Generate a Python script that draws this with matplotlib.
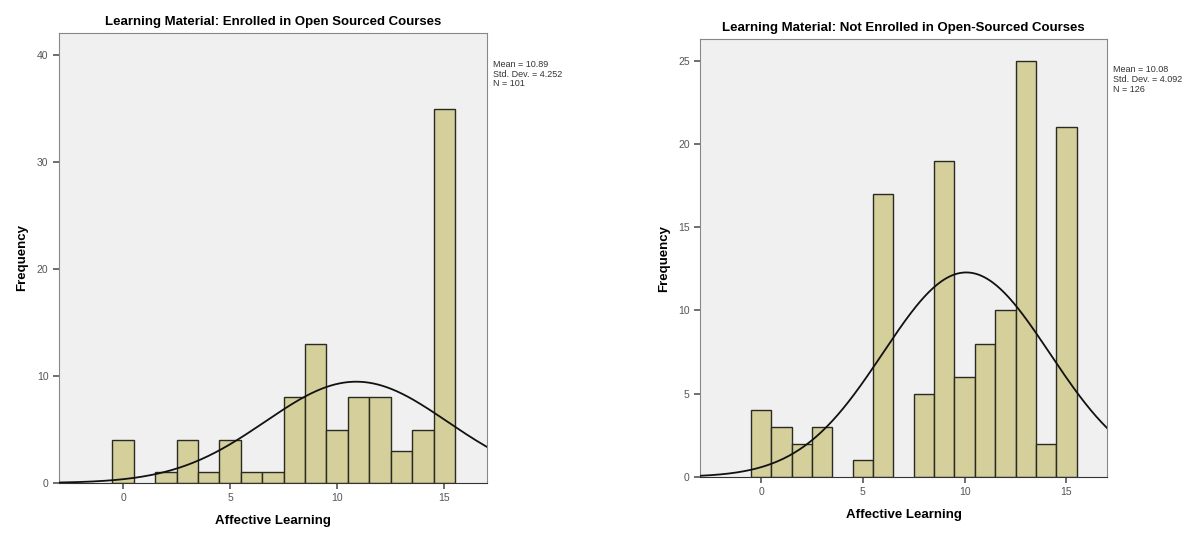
import numpy as np
import matplotlib.pyplot as plt

plt.rcParams['font.family'] = ['Liberation Sans', 'DejaVu Sans']

# score values (bin centres) and counts
scores = [0, 1, 2, 3, 4, 5, 6, 7, 8, 9, 10, 11, 12, 13, 14, 15]
enrolled_counts = [4, 0, 1, 4, 1, 4, 1, 1, 8, 13, 5, 8, 8, 3, 5, 35]
not_enrolled_counts = [4, 3, 2, 3, 0, 1, 17, 0, 5, 19, 6, 8, 10, 25, 2, 21]

titles = ["Learning Material: Enrolled in Open Sourced Courses",
          "Learning Material: Not Enrolled in Open-Sourced Courses"]
stats = [(10.89, 4.252, 101), (10.08, 4.092, 126)]
yticks = [[0, 10, 20, 30, 40], [0, 5, 10, 15, 20, 25]]
ymax = [42.1, 26.3]

bar_color = '#d4cf9b'
bg = '#f0f0f0'

fig = plt.figure(figsize=(12.01, 5.39), dpi=100)
ax1 = fig.add_axes([0.0491, 0.1039, 0.3564, 0.835])
ax2 = fig.add_axes([0.5829, 0.115, 0.3389, 0.8126])

for i, (ax, counts) in enumerate(zip([ax1, ax2], [enrolled_counts, not_enrolled_counts])):
    x = np.array(scores)
    c = np.array(counts)
    keep = c > 0
    ax.set_facecolor(bg)
    ax.bar(x[keep], c[keep], width=1.0, color=bar_color, edgecolor='#2a2a22',
           linewidth=1.0, zorder=2)
    mean, sd, n = stats[i]
    xs = np.linspace(-3, 17, 300)
    ys = n / (sd * np.sqrt(2 * np.pi)) * np.exp(-0.5 * ((xs - mean) / sd) ** 2)
    ax.plot(xs, ys, color='#111111', linewidth=1.3, zorder=3)
    ax.set_xlim(-3, 17)
    ax.set_ylim(0, ymax[i])
    ax.set_xticks([0, 5, 10, 15])
    ax.set_yticks(yticks[i])
    ax.tick_params(labelsize=7.5, colors='#555555', length=4, width=1.2)
    for s in ax.spines.values():
        s.set_color('#888888')
    ax.spines['bottom'].set_color('#333333')
    ax.set_title(titles[i], fontsize=9.5, fontweight='bold', pad=6)
    ax.set_xlabel("Affective Learning", fontsize=9.5, fontweight='bold', labelpad=8)
    ax.set_ylabel("Frequency", fontsize=9.5, fontweight='bold', labelpad=6)
    ax.text(1.014, 0.94, "Mean = %.2f\nStd. Dev. = %.3f\nN = %d" % (mean, sd, n),
            transform=ax.transAxes, fontsize=6.5, va='top', ha='left',
            color='#333333', linespacing=1.1)

fig.savefig('out.png', dpi=100)
